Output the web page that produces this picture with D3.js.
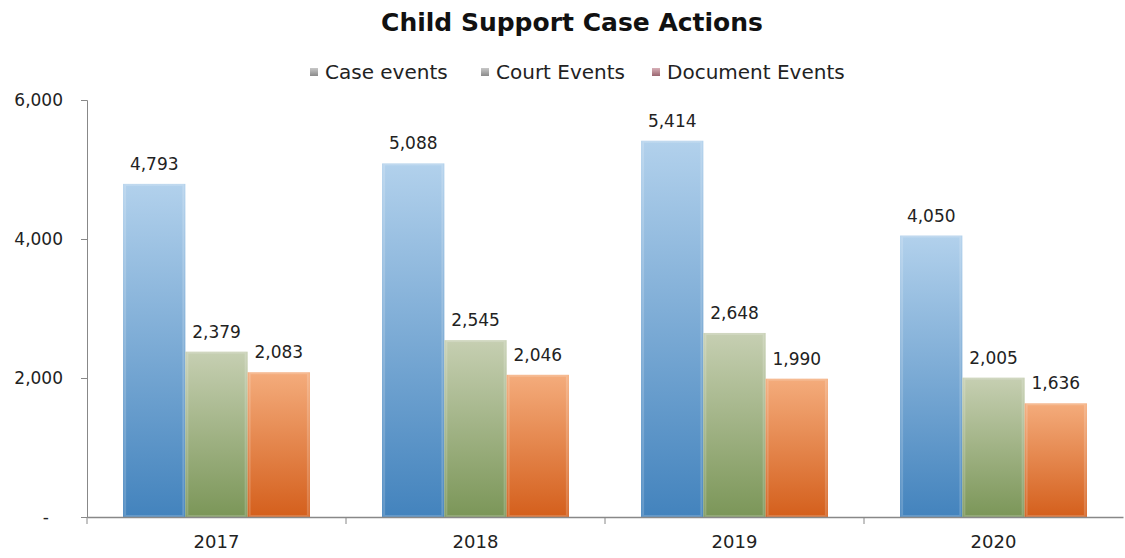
<!DOCTYPE html>
<html><head><meta charset="utf-8">
<script src="https://cdn.jsdelivr.net/npm/d3@7"></script>
<style>body{margin:0;background:#fff;}svg{display:block;font-family:"DejaVu Sans",sans-serif;}</style>
</head><body>
<svg id="c" width="1125" height="558"></svg>
<script>
const years = ["2017","2018","2019","2020"];
const seriesNames = ["Case events","Court Events","Document Events"];
const caseEvents = [4793,5088,5414,4050];
const courtEvents = [2379,2545,2648,2005];
const documentEvents = [2083,2046,1990,1636];
const yTicks = [0,2000,4000,6000];
const seriesValues = [caseEvents, courtEvents, documentEvents];
const grads = [["#b2d1ec","#4383bd"],["#c6cfb2","#7b9658"],["#f4ac7c","#d45f1c"]];

const svg = d3.select("#c");
const x0 = d3.scaleBand().domain(years).range([87,1123]).paddingInner(0).paddingOuter(0);
const x1 = d3.scaleBand().domain(seriesNames).range([0,x0.bandwidth()]).paddingInner(0).paddingOuter(0.58);
const y = d3.scaleLinear().domain([0,6000]).range([517,100]);

const defs = svg.append("defs");
grads.forEach((g,i)=>{
  const lg = defs.append("linearGradient").attr("id","g"+i).attr("x1",0).attr("y1",0).attr("x2",0).attr("y2",1);
  lg.append("stop").attr("offset","0%").attr("stop-color",g[0]);
  lg.append("stop").attr("offset","100%").attr("stop-color",g[1]);
});
const lgm = defs.append("linearGradient").attr("id","gm").attr("x1",0).attr("y1",0).attr("x2",0).attr("y2",1);
lgm.append("stop").attr("offset","0%").attr("stop-color","#c8c8c8");
lgm.append("stop").attr("offset","100%").attr("stop-color","#8a8a8a");
const lgm3 = defs.append("linearGradient").attr("id","gm3").attr("x1",0).attr("y1",0).attr("x2",0).attr("y2",1);
lgm3.append("stop").attr("offset","0%").attr("stop-color","#d8b0b8");
lgm3.append("stop").attr("offset","100%").attr("stop-color","#9a6670");

svg.append("text").attr("x",572).attr("y",31).attr("text-anchor","middle")
  .attr("font-size",25).attr("font-weight","bold").attr("fill","#111").text("Child Support Case Actions");

// legend
const legX = [310,481,652];
seriesNames.forEach((n,i)=>{
  const g = svg.append("g").attr("transform",`translate(${legX[i]},72)`);
  g.append("rect").attr("x",0).attr("y",-4).attr("width",8).attr("height",8).attr("fill",i===2?"url(#gm3)":"url(#gm)");
  g.append("text").attr("x",15).attr("y",7).attr("font-size",20).attr("fill","#222").text(n);
});

// bars
const groups = svg.append("g").selectAll("g").data(years).join("g")
  .attr("transform",d=>`translate(${x0(d)},0)`);
groups.each(function(yr,yi){
  const g = d3.select(this);
  seriesNames.forEach((s,si)=>{
    const v = seriesValues[si][yi];
    g.append("rect").attr("x",x1(s)).attr("y",y(v)).attr("width",x1.bandwidth()).attr("height",y(0)-y(v))
      .attr("fill",`url(#g${si})`);
    g.append("rect").attr("x",x1(s)+2).attr("y",y(v)+1).attr("width",x1.bandwidth()-4).attr("height",y(0)-y(v)-2)
      .attr("fill","none").attr("stroke","#fff").attr("stroke-opacity",0.18).attr("stroke-width",2);
    g.append("text").attr("x",x1(s)+x1.bandwidth()/2).attr("y",y(v)-14).attr("text-anchor","middle")
      .attr("font-size",17).attr("fill","#222").text(d3.format(",")(v));
  });
});

// axes
const yAxis = d3.axisLeft(y).tickValues(yTicks).tickSize(6).tickFormat(d=>d===0?"-":d3.format(",")(d));
const ya = svg.append("g").attr("transform","translate(87,0)").call(yAxis);
ya.select(".domain").attr("stroke","#888");
ya.selectAll(".tick line").attr("stroke","#888");
ya.selectAll(".tick text").attr("font-size",17).attr("fill","#222").attr("x",d=>d===0?-38:-24).attr("font-family","DejaVu Sans, sans-serif");

const xAxis = d3.axisBottom(x0).tickSize(0).tickPadding(18);
const xa = svg.append("g").attr("transform","translate(0,517)").call(xAxis);
xa.select(".domain").attr("stroke","#888").attr("stroke-width",1.5);
xa.selectAll(".tick text").attr("font-size",18).attr("fill","#222").attr("font-family","DejaVu Sans, sans-serif");
// category boundary ticks
svg.append("g").selectAll("line").data(years).join("line")
  .attr("x1",d=>x0(d)).attr("x2",d=>x0(d)).attr("y1",517).attr("y2",524).attr("stroke","#888");
</script>
</body></html>
